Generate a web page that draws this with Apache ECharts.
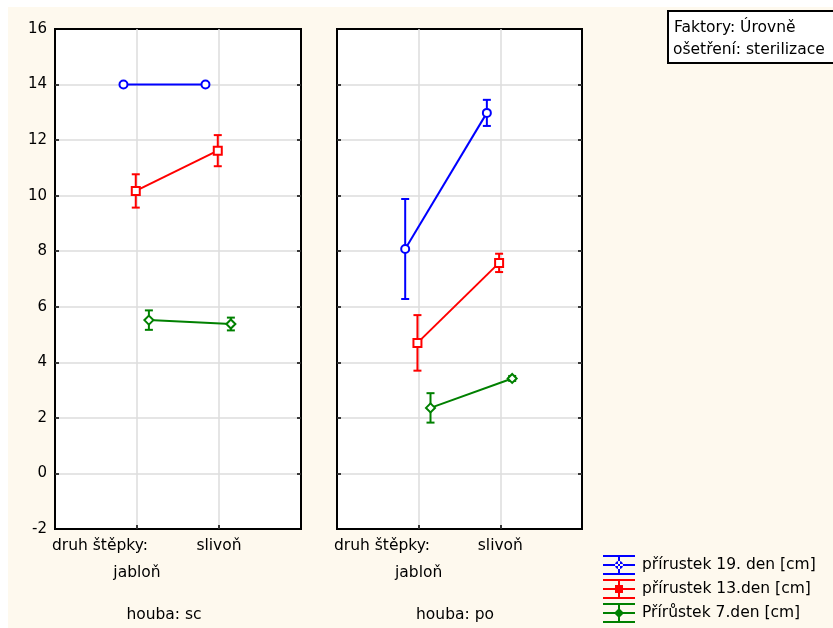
<!DOCTYPE html>
<html>
<head>
<meta charset="utf-8">
<script src="https://cdn.jsdelivr.net/npm/echarts@6/dist/echarts.min.js"></script>
<style>html,body{margin:0;padding:0;background:#fff}#c{width:833px;height:628px}</style>
</head>
<body>
<div id="c"></div>
<script>
// ---- data ----
const categories = ['jabloň', 'slivoň'];
const factorName = 'druh štěpky:';
const panelLabels = ['houba: sc', 'houba: po'];
const seriesNames = ['přírustek 19. den [cm]', 'přírustek 13.den [cm]', 'Přírůstek 7.den [cm]'];
const yMin = -2, yMax = 16, yStep = 2;
const boxLines = ['Faktory: Úrovně', 'ošetření: sterilizace'];

// panel "houba: sc"
const sc19 = [14.0, 14.0];   const sc19Err = [0, 0];
const sc13 = [10.17, 11.62]; const sc13Err = [0.6, 0.56];
const sc7  = [5.52, 5.38];   const sc7Err  = [0.35, 0.23];
// panel "houba: po"
const po19 = [8.08, 12.98];  const po19Err = [1.8, 0.47];
const po13 = [4.70, 7.58];   const po13Err = [1.0, 0.33];
const po7  = [2.36, 3.42];   const po7Err  = [0.53, 0.09];

// ---- styling ----
const FONT = 'DejaVu Sans';
const FS = 15;     // tick labels
const FT = 15.5;   // other texts
const colors = ['#0000ff', '#ff0000', '#008000'];
const symbols = ['emptyCircle', 'emptyRect', 'emptyDiamond'];
const symSizes = [8, 8, 9];
const offsets = [-0.165, -0.015, 0.145]; // horizontal dodge of the three series
const panelValues = [[sc19, sc13, sc7], [po19, po13, po7]];
const panelErrs = [[sc19Err, sc13Err, sc7Err], [po19Err, po13Err, po7Err]];

const iconBase = 'M0 0H32V2H0Z M0 9H32V11H0Z M0 18H32V20H0Z M15 0H17V20H15Z ';
const iconMarks = [
  'M12 10A4 4 0 1 0 20 10A4 4 0 1 0 12 10Z',
  'M12 6H20V14H12Z',
  'M16 5L21 10L16 15L11 10Z'
];

const grids = [
  {left: 55, top: 29, width: 246, height: 500},
  {left: 337, top: 29, width: 245, height: 500}
];

const tickStyle = {color: '#000', width: 1.5};
const splitStyle = {color: '#dcdcdc', width: 1.5};
const xAxes = [], yAxes = [], series = [];
grids.forEach((g, gi) => {
  Object.assign(g, {show: true, backgroundColor: '#fff', borderColor: '#000', borderWidth: 2});
  xAxes.push({
    gridIndex: gi, type: 'value', min: 0, max: categories.length + 1, interval: 1, position: 'bottom',
    axisLine: {show: false, onZero: false},
    axisTick: {show: true, inside: true, length: 4, lineStyle: tickStyle},
    splitLine: {show: true, showMinLine: false, showMaxLine: false, lineStyle: splitStyle},
    axisLabel: {
      margin: 3.5, color: '#000', fontFamily: FONT, fontSize: FT, lineHeight: 27,
      formatter: v => v === 1 ? '\n' + categories[0] : (v >= 2 && v <= categories.length ? categories[v - 1] : '')
    }
  });
  yAxes.push({
    gridIndex: gi, type: 'value', min: yMin, max: yMax, interval: yStep, position: 'left',
    axisLine: {show: false, onZero: false},
    axisTick: {show: true, inside: true, length: 4, lineStyle: tickStyle},
    splitLine: {show: true, showMinLine: false, showMaxLine: false, lineStyle: splitStyle},
    axisLabel: {show: gi === 0, margin: 8, color: '#000', fontFamily: FONT, fontSize: FS}
  });
  yAxes.push({
    gridIndex: gi, type: 'value', min: yMin, max: yMax, interval: yStep, position: 'right',
    axisLine: {show: false, onZero: false},
    axisTick: {show: true, inside: true, length: 4, lineStyle: tickStyle},
    splitLine: {show: false},
    axisLabel: {show: false}
  });
  panelValues[gi].forEach((vals, si) => {
    const errs = panelErrs[gi][si];
    const pts = vals.map((v, ci) => [ci + 1 + offsets[si], v]);
    const ebs = vals.map((v, ci) => [ci + 1 + offsets[si], v - errs[ci], v + errs[ci]]);
    series.push({
      name: seriesNames[si] + ' (chyba)', type: 'custom', xAxisIndex: gi, yAxisIndex: gi * 2, z: 2,
      encode: {x: 0, y: [1, 2]}, data: ebs, silent: true,
      renderItem: (params, api) => {
        const x = api.value(0), lo = api.value(1), hi = api.value(2);
        if (hi - lo <= 0) return {type: 'group', children: []};
        const a = api.coord([x, hi]), b = api.coord([x, lo]);
        const w = 4;
        const st = {stroke: colors[si], lineWidth: 2};
        return {type: 'group', children: [
          {type: 'line', shape: {x1: a[0], y1: a[1], x2: b[0], y2: b[1]}, style: st},
          {type: 'line', shape: {x1: a[0] - w, y1: a[1], x2: a[0] + w, y2: a[1]}, style: st},
          {type: 'line', shape: {x1: b[0] - w, y1: b[1], x2: b[0] + w, y2: b[1]}, style: st}
        ]};
      }
    });
    series.push({
      name: seriesNames[si], type: 'line', xAxisIndex: gi, yAxisIndex: gi * 2, z: 3,
      data: pts, symbol: symbols[si], symbolSize: symSizes[si], showAllSymbol: true,
      lineStyle: {color: colors[si], width: 2}, itemStyle: {color: colors[si], borderWidth: 2},
      animation: false
    });
  });
});

const txt = (t, x, y, align) => ({type: 'text', z: 6, x: x, y: y,
  style: {text: t, fill: '#000', font: FT + 'px "' + FONT + '"', align: align, verticalAlign: 'middle'}});

const chart = echarts.init(document.getElementById('c'), null, {renderer: 'canvas'});
chart.setOption({
  animation: false,
  backgroundColor: '#fff',
  textStyle: {fontFamily: FONT},
  grid: grids,
  xAxis: xAxes,
  yAxis: yAxes,
  legend: {
    orient: 'vertical', left: 603, top: 555, itemWidth: 32, itemHeight: 20, itemGap: 4, padding: 0,
    textStyle: {color: '#000', fontFamily: FONT, fontSize: FT, padding: [0, 0, 0, 2]},
    selectedMode: false,
    data: seriesNames.map((n, i) => ({
      name: n, icon: 'path://' + iconBase + iconMarks[i],
      itemStyle: {color: colors[i], borderWidth: 0}
    }))
  },
  graphic: [
    {type: 'rect', z: -10, shape: {x: 8, y: 7, width: 825, height: 621}, style: {fill: '#fef9ee'}},
    {type: 'rect', z: 5, shape: {x: 668, y: 11, width: 200, height: 52}, style: {fill: '#fff', stroke: '#000', lineWidth: 2}},
    txt(boxLines[0], 674, 28, 'left'),
    txt(boxLines[1], 673, 50, 'left'),
    txt(factorName, 148, 546, 'right'),
    txt(factorName, 430, 546, 'right'),
    txt(panelLabels[0], 164, 615, 'center'),
    txt(panelLabels[1], 455, 615, 'center')
  ],
  series: series
});
</script>
</body>
</html>
